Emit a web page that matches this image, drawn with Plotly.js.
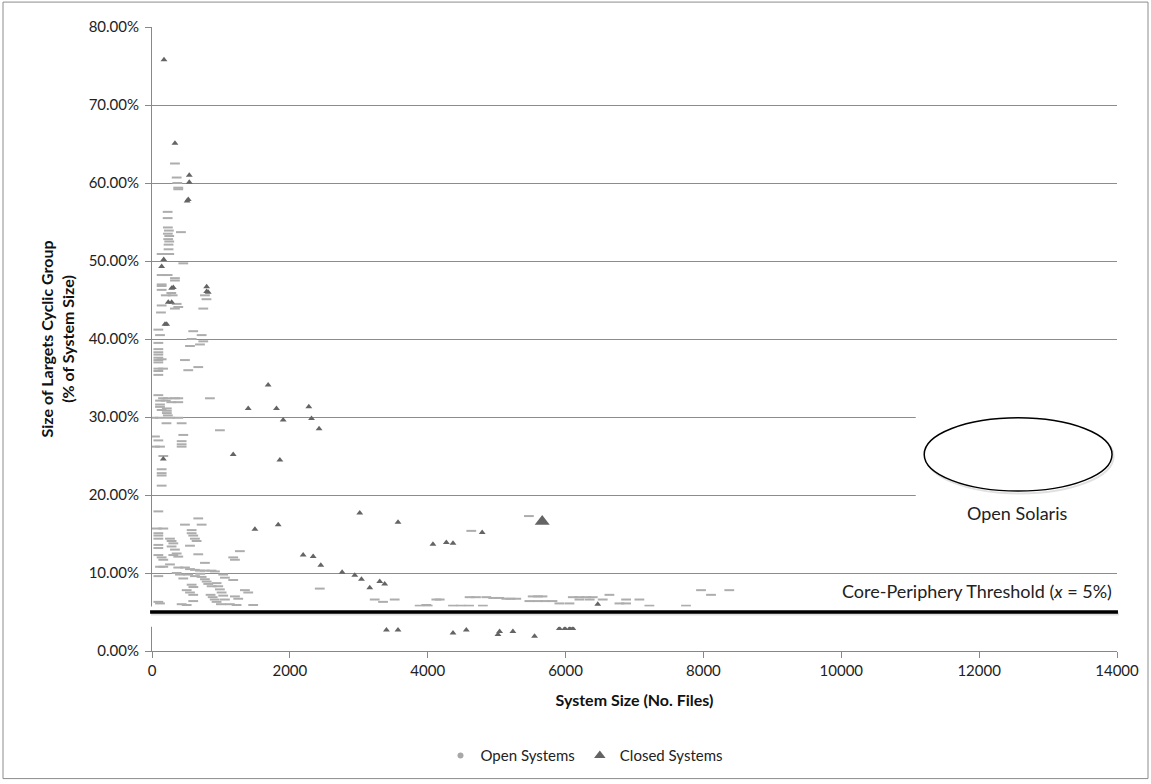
<!DOCTYPE html>
<html><head><meta charset="utf-8">
<script src="https://cdn.plot.ly/plotly-3.0.1.min.js"></script>
<style>html,body{margin:0;padding:0;background:#fff}#chart{width:1151px;height:784px}</style>
</head><body><div id="chart"></div>
<script>
// Open systems: system size (files), largest cyclic group (% of system size)
const openX = [333,358,367,381,381,227,227,
 230,245,230,250,235,250,240,420,240,140,250,
 454,140,227,333,333,140,140,140,280,200,300,768,790,
 140,358,381,333,744,130,92,116,598,720,575,744,551,696,92,
 92,92,92,92,92,92,92,92,92,140,160,478,671,526,
 92,160,230,333,381,116,200,280,381,116,116,840,
 215,215,215,230,140,19,116,260,381,210,430,985,43,92,454,430,430,430,43,116,
 164,140,140,140,140,92,671,478,720,70,164,575,92,92,92,261,284,309,575,598,623,647,
 92,92,284,333,358,551,1275,92,140,164,309,381,671,1178,1203,768,116,164,261,381,478,
 551,623,696,768,864,913,92,358,406,454,526,623,768,793,816,865,1033,1058,1178,
 937,961,985,1010,1033,1058,503,551,598,1203,1251,1348,1396,598,937,92,116,430,503,1130,1227,1468,
 700,720,575,600,850,880,910,1000,
 2434,3231,3352,3521,3980,4125,3883,4000,4174,4367,4480,4600,4800,4608,4700,4850,4950,5040,
 5140,5200,5285,5523,5600,5665,5475,5600,5700,5810,5910,6056,6105,6200,6300,6394,6201,6350,6539,
 6636,6781,6878,6878,7071,7216,7747,7965,8110,8375,5468,4632];
const openY = [62.5,60.7,60.0,59.4,59.2,56.3,55.5,
 54.3,53.9,53.5,53.2,52.8,52.5,52.1,53.7,51.5,50.9,50.9,
 49.7,48.2,48.2,47.8,47.5,47.0,46.8,46.3,45.9,45.6,45.6,45.6,45.1,
 44.3,44.5,44.1,43.9,43.9,43.4,41.2,40.5,41.0,40.5,40.0,39.7,39.1,39.3,39.5,
 38.7,38.3,38.0,37.6,37.3,37.0,36.2,35.9,35.4,37.4,36.2,37.3,36.4,36.0,
 32.8,32.4,32.4,32.4,32.4,32.1,32.1,31.9,31.9,31.6,31.3,32.4,
 31.1,30.8,30.5,30.2,30.9,29.9,29.9,29.9,29.9,29.2,29.2,28.3,27.5,27.0,27.7,26.9,26.5,26.2,26.2,26.2,
 25.0,23.3,22.8,22.5,21.2,17.9,17.0,16.2,16.2,15.7,15.7,15.5,15.1,14.8,14.4,14.4,14.1,13.8,15.1,14.8,14.4,14.1,
 13.6,13.2,13.4,13.0,12.5,13.5,12.8,12.3,12.0,11.7,12.3,12.1,12.4,12.0,11.7,11.3,10.8,10.8,11.1,10.7,10.7,
 10.5,10.4,10.3,10.3,10.3,10.2,9.6,10.0,9.8,9.3,9.8,9.6,9.2,8.9,8.6,8.3,9.8,9.4,9.1,
 8.7,8.3,7.9,7.5,7.1,6.6,7.8,7.5,7.2,7.0,6.7,7.8,7.5,6.4,6.3,6.3,6.1,6.0,5.9,6.0,5.9,5.9,
 9.9,9.5,8.5,8.2,7.2,6.9,6.6,6.0,
 8.0,6.6,6.3,6.6,5.9,6.6,5.8,5.8,6.6,5.8,5.8,5.8,5.8,6.9,6.9,6.9,6.8,6.8,
 6.7,6.7,6.7,7.0,7.0,7.0,6.4,6.4,6.4,6.4,6.1,6.1,6.9,6.9,6.9,6.9,6.6,6.6,6.6,
 7.2,6.1,6.1,6.6,6.6,5.8,5.8,7.8,7.2,7.8,17.3,15.4];

// Closed systems
const closedX = [174,333,541,541,526,510,170,140,309,285,793,816,793,236,285,188,213,
 1396,1806,1685,1903,2275,2314,2424,164,1178,1855,1493,1831,3014,3569,4076,4270,4367,4790,
 2193,2338,2449,2758,2942,3039,3304,3376,3159,6467,
 3401,3569,4367,4560,5019,5043,5236,5550,5910,5990,6060,6105];
const closedY = [75.8,65.1,61.0,60.1,57.9,57.7,50.2,49.3,46.6,46.5,46.7,46.0,46.1,44.7,44.7,41.9,41.9,
 31.1,31.1,34.1,29.6,31.3,29.8,28.5,24.6,25.2,24.5,15.6,16.2,17.7,16.5,13.7,13.9,13.8,15.2,
 12.3,12.1,11.0,10.1,9.7,9.2,8.9,8.6,8.1,6.0,
 2.7,2.7,2.3,2.7,2.1,2.5,2.5,1.9,2.9,2.9,2.9,2.9];
const bigClosedX = [5661];
const bigClosedY = [16.6];

const yTicks = [0,0.1,0.2,0.3,0.4,0.5,0.6,0.7,0.8];
const xTicks = [0,2000,4000,6000,8000,10000,12000,14000];
const threshold = 0.05;

const W=1151,H=784,ml=152,mr=34,mt=27,mb=131;
const pw=W-ml-mr, ph=H-mt-mb;
const pX = p => (p-ml)/pw;
const pY = p => (H-mb-p)/ph;
const pct = a => a.map(v => v/100);
const FONT = 'Lato, "Open Sans", sans-serif';

const traces = [
 {type:'scatter', mode:'markers', x:openX, y:pct(openY), showlegend:false, hoverinfo:'skip',
  marker:{symbol:'line-ew', size:7, color:'#adadad', line:{color:'#adadad', width:2}}},
 {type:'scatter', mode:'markers', x:closedX, y:pct(closedY), showlegend:false, hoverinfo:'skip',
  marker:{symbol:'triangle-up', size:6, color:'#646464', line:{width:0}}},
 {type:'scatter', mode:'markers', x:bigClosedX, y:pct(bigClosedY), showlegend:false, hoverinfo:'skip',
  marker:{symbol:'triangle-up', size:13, color:'#646464', line:{width:0}}},
 {type:'scatter', mode:'markers', x:[null], y:[null], name:'Open Systems',
  marker:{symbol:'circle', size:6, color:'#a8a8a8'}},
 {type:'scatter', mode:'markers', x:[null], y:[null], name:'Closed Systems',
  marker:{symbol:'triangle-up', size:10, color:'#636363'}}
];

const layout = {
 width:W, height:H, margin:{l:ml, r:mr, t:mt, b:mb, pad:0},
 paper_bgcolor:'#fff', plot_bgcolor:'#fff',
 font:{family:FONT, size:15, color:'#222'},
 xaxis:{range:[0,14000], tickvals:xTicks, ticktext:xTicks.map(String), showgrid:false, zeroline:false,
  showline:true, linecolor:'#888', linewidth:1, ticks:'outside', ticklen:6, tickcolor:'#888',
  tickfont:{size:15}, title:{text:'System Size (No. Files)', font:{size:16, weight:'bold', color:'#111'}, standoff:16}},
 yaxis:{range:[0,0.8], tickvals:yTicks, tickformat:'.2%', showgrid:true, gridcolor:'#8c8c8c', gridwidth:1,
  zeroline:false, showline:true, linecolor:'#888', linewidth:1, ticks:'outside', ticklen:6, tickcolor:'#888',
  ticklabelstandoff:3,
  tickfont:{size:15}, title:{text:'Size of Largets Cyclic Group<br>(% of System Size)', font:{size:16, weight:'bold', color:'#111'}, standoff:10}},
 legend:{orientation:'h', x:pX(584), xanchor:'center', y:pY(758), yanchor:'middle',
  font:{size:15, color:'#222'}, itemwidth:30, tracegroupgap:0, bgcolor:'rgba(0,0,0,0)'},
 shapes:[
  {type:'rect', xref:'paper', yref:'paper', x0:pX(3), x1:pX(1148), y0:pY(781), y1:pY(2),
   line:{color:'#8c8c8c', width:1}, fillcolor:'rgba(0,0,0,0)', layer:'below'},
  {type:'rect', xref:'x', yref:'y', x0:11080, x1:14000, y0:0.19, y1:0.31, line:{width:0}, fillcolor:'#fff', layer:'above'},
  {type:'rect', xref:'paper', yref:'y', x0:0.998, x1:1.01, y0:0.19, y1:0.31, line:{width:0}, fillcolor:'#fff', layer:'above'},
  {type:'circle', xref:'x', yref:'y', x0:11230, x1:13950, y0:0.202, y1:0.297, line:{color:'rgba(0,0,0,0.12)', width:2}, fillcolor:'rgba(0,0,0,0)', layer:'above'},
  {type:'circle', xref:'x', yref:'y', x0:11203, x1:13928, y0:0.205, y1:0.299, line:{color:'#000', width:1.5}, fillcolor:'#fff', layer:'above'},
  {type:'rect', xref:'paper', yref:'y', x0:-0.01, x1:1.01, y0:0.031, y1:0.057, line:{width:0}, fillcolor:'#fff', layer:'above'},
  {type:'line', xref:'paper', yref:'y', x0:-0.001, x1:1.002, y0:threshold-0.0025, y1:threshold-0.0025, line:{color:'rgba(0,0,0,0.12)', width:3}, layer:'above'},
  {type:'line', xref:'paper', yref:'y', x0:-0.002, x1:1.001, y0:threshold, y1:threshold, line:{color:'#000', width:3.5}, layer:'above'}
 ],
 annotations:[
  {xref:'x', yref:'y', x:12548, y:0.1765, text:'Open Solaris', showarrow:false, font:{size:18, color:'#222'}, xanchor:'center', yanchor:'middle'},
  {xref:'paper', yref:'y', x:pX(1114), y:0.0767, text:'Core-Periphery Threshold (<i>x</i> = 5%)', showarrow:false, font:{size:18, color:'#222'}, xanchor:'right', yanchor:'middle'}
 ]
};

Plotly.newPlot('chart', traces, layout, {staticPlot:true, displayModeBar:false});
</script>
</body></html>
